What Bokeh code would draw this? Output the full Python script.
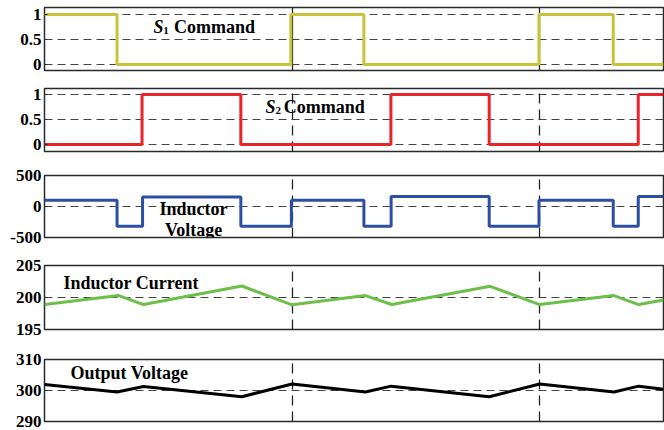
from bokeh.plotting import figure
from bokeh.models import Range1d, FixedTicker, Grid, Label
from bokeh.layouts import column
from bokeh.embed import file_html
from bokeh.resources import INLINE

# ---- data (time in switching periods) ----
s1_t = [0, 0.293, 0.995, 1.29, 1.997, 2.297, 2.5]
s1_v = [1, 0, 1, 0, 1, 0, 0]

s2_t = [0, 0.394, 0.793, 1.399, 1.796, 2.398, 2.5]
s2_v = [0, 1, 0, 1, 0, 1, 1]

vl_t = [0, 0.293, 0.396, 0.793, 0.997, 1.29, 1.4, 1.796, 1.997, 2.297, 2.398, 2.5]
vl_v = [100, -320, 155, -320, 100, -320, 160, -320, 100, -320, 160, 160]

il_t = [0, 0.3, 0.4, 0.797, 1.0, 1.296, 1.403, 1.8, 2.0, 2.3, 2.4, 2.5]
il_v = [198.9, 200.3, 198.9, 201.8, 198.85, 200.3, 198.9, 201.75, 198.9, 200.3, 198.9, 199.6]

vo_t = [0, 0.293, 0.4, 0.797, 1.0, 1.296, 1.4, 1.796, 2.0, 2.3, 2.4, 2.5]
vo_v = [301.9, 299.5, 301.3, 298.0, 302.1, 299.5, 301.4, 298.0, 302.1, 299.5, 301.4, 300.4]

s_ticks, s_labels = [0, 0.5, 1], ["0", "0.5", "1"]
vl_ticks, vl_labels = [-500, 0, 500], ["-500", "0", "500"]
il_ticks, il_labels = [195, 200, 205], ["195", "200", "205"]
vo_ticks, vo_labels = [290, 300, 310], ["290", "300", "310"]

FONT = "Liberation Serif"


def make_fig(h, top, bottom, yr, ticks, labels, vsolid=False):
    p = figure(width=664, height=h, x_range=Range1d(0, 2.5), y_range=Range1d(*yr),
               x_axis_location=None, toolbar_location=None, output_backend="svg",
               min_border_left=44, min_border_right=1, min_border_top=top,
               min_border_bottom=bottom)
    p.outline_line_color = "#2a2a2a"
    p.outline_line_width = 1.5
    p.background_fill_color = "white"
    p.border_fill_color = "white"
    p.xgrid.visible = False
    ax = p.yaxis[0]
    ax.ticker = FixedTicker(ticks=ticks)
    ax.major_label_overrides = dict(zip(ticks, labels))
    ax.axis_line_color = None
    ax.major_tick_out = 0
    ax.major_tick_in = 3
    ax.major_tick_line_color = "#2a2a2a"
    ax.minor_tick_line_color = None
    ax.major_label_standoff = 3
    ax.major_label_text_font = FONT
    ax.major_label_text_font_style = "bold"
    ax.major_label_text_font_size = "17px"
    ax.major_label_text_color = "black"
    g = p.ygrid[0]
    g.ticker = FixedTicker(ticks=ticks)
    g.grid_line_color = "#444444"
    g.grid_line_width = 1.2
    g.grid_line_dash = "8 5"
    vg = Grid(dimension=0, ticker=FixedTicker(ticks=[1, 2]),
              grid_line_color="#222222", grid_line_width=1.3,
              grid_line_dash="solid" if vsolid else "10 6")
    p.add_layout(vg)
    return p


def lbl(p, x, y, text, size="18px", style="bold", align="left"):
    p.add_layout(Label(x=x, y=y, text=text, text_font=FONT, text_font_style=style,
                       text_font_size=size, text_baseline="middle", text_align=align,
                       text_color="black"))


# Panel 1: S1
p1 = make_fig(80, 7, 10, (-0.12, 1.14), s_ticks, s_labels, vsolid=True)
p1.step(s1_t, s1_v, mode="after", line_color="#c6c43a", line_width=3)
lbl(p1, 0.440, 0.76, "S", style="bold italic")
lbl(p1, 0.480, 0.69, "1", size="11px")
lbl(p1, 0.523, 0.76, "Command")

# Panel 2: S2
p2 = make_fig(87, 8, 16, (-0.14, 1.12), s_ticks, s_labels)
p2.step(s2_t, s2_v, mode="after", line_color="#e8232a", line_width=3)
lbl(p2, 0.893, 0.76, "S", style="bold italic")
lbl(p2, 0.933, 0.69, "2", size="11px")
lbl(p2, 0.966, 0.76, "Command")

# Panel 3: inductor voltage
p3 = make_fig(90, 8, 20, (-500, 500), vl_ticks, vl_labels)
p3.step(vl_t, vl_v, mode="after", line_color="#2c4fa3", line_width=3)
lbl(p3, 0.602, -48, "Inductor", align="center")
lbl(p3, 0.602, -387, "Voltage", align="center")

# Panel 4: inductor current
p4 = make_fig(94, 8, 22, (195, 205), il_ticks, il_labels)
p4.line(il_t, il_v, line_color="#6cbf48", line_width=3)
lbl(p4, 0.077, 202.34, "Inductor Current")

# Panel 5: output voltage
p5 = make_fig(79, 8, 9, (290, 310), vo_ticks, vo_labels)
p5.line(vo_t, vo_v, line_color="black", line_width=3)
lbl(p5, 0.105, 305.5, "Output Voltage")

layout = column(p1, p2, p3, p4, p5, spacing=0)
open("out.html", "w").write(file_html(layout, INLINE))
